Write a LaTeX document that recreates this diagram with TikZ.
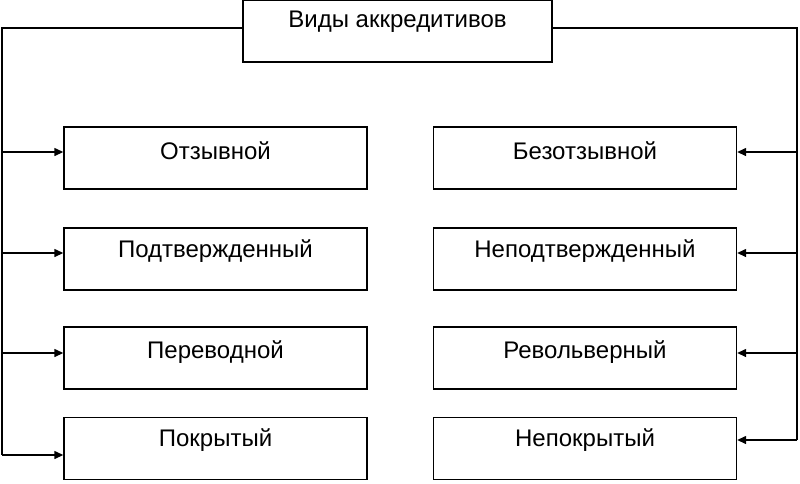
\documentclass[tikz,border=0pt]{standalone}
\usepackage{fontspec}
\setmainfont{Liberation Sans}
\usetikzlibrary{arrows.meta}

\begin{document}
\begin{tikzpicture}[
            x = 1pt, y = -1pt,
            > = {Triangle[length=9pt,width=8pt]}, % arrow head style
            line width = 1.4pt
        ]

        \tikzset{
            box/.style = {draw = black, line width = 1.4pt, minimum width = 303pt,
                minimum height = 62pt, inner sep = 0pt},
            lbl/.style = {font = \fontsize{24}{28}\selectfont, inner sep = 0pt}
        }

        \useasboundingbox (0,0) rectangle (800,483);

        % top box
        \node[box, minimum width = 309pt] (top) at (397.5,31) {};
        \node[lbl] (ttop) at (397.5,22) {Виды аккредитивов};

        % left column
        \node[box] (l1) at (215.5,158) {};
        \node[box] (l2) at (215.5,259) {};
        \node[box] (l3) at (215.5,358) {};
        \node[box] (l4) at (215.5,448.5) {};
        \node[lbl] (tl1) at (215.5,151) {Отзывной};
        \node[lbl] (tl2) at (215.5,251) {Подтвержденный};
        \node[lbl] (tl3) at (215.5,352) {Переводной};
        \node[lbl] (tl4) at (215.5,440) {Покрытый};

        % right column
        \node[box] (r1) at (585,158) {};
        \node[box] (r2) at (585,259) {};
        \node[box] (r3) at (585,358) {};
        \node[box] (r4) at (585,448.5) {};
        \node[lbl] (tr1) at (585,151) {Безотзывной};
        \node[lbl] (tr2) at (585,251) {Неподтвержденный};
        \node[lbl] (tr3) at (585,352) {Револьверный};
        \node[lbl] (tr4) at (585,440) {Непокрытый};

        \coordinate (la) at (2,28);
        \coordinate (lb) at (2,455);
        \coordinate (ra) at (797,28);
        \coordinate (rb) at (797,440);

        \draw (top.west |- la) -- (la) -- (lb);
        \draw (top.east |- ra) -- (ra) -- (rb);

        \foreach \i/\y in {1/152, 2/253, 3/353, 4/455} {
            \draw[->] (2,\y) -- (l\i.west |- 0,\y);
        }
        \foreach \i/\y in {1/152, 2/253, 3/353, 4/440} {
            \draw[->] (797,\y) -- (r\i.east |- 0,\y);
        }

  \end{tikzpicture}
\end{document}
